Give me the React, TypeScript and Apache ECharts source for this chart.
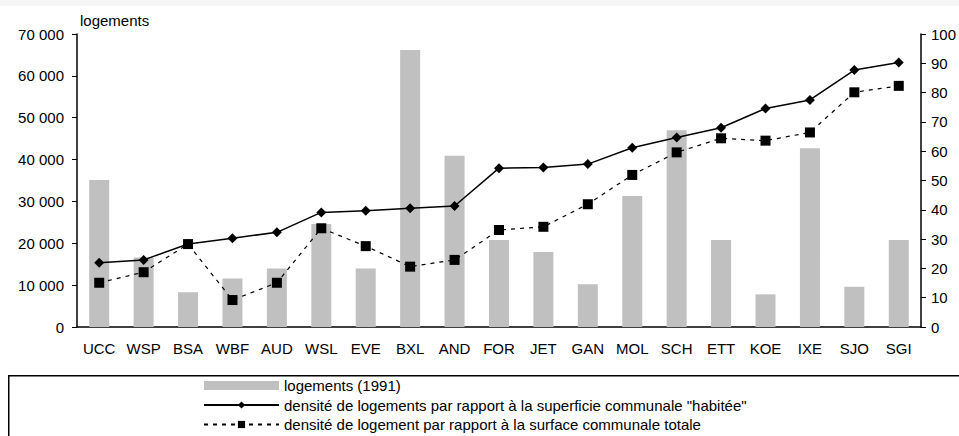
import React, { useEffect, useRef } from "react";
import * as echarts from "echarts";

const categories = ["UCC","WSP","BSA","WBF","AUD","WSL","EVE","BXL","AND","FOR","JET","GAN","MOL","SCH","ETT","KOE","IXE","SJO","SGI"];
const logements = [35100,16600,8300,11600,14000,24600,14000,66200,40900,20800,17900,10200,31300,47000,20800,7800,42700,9600,20800];
const densiteHabitee = [21.9,22.9,28.3,30.3,32.3,39.1,39.7,40.5,41.3,54.2,54.4,55.6,61.2,64.7,68.0,74.6,77.5,87.7,90.3];
const densiteTotale = [15.1,18.7,28.3,9.2,15.1,33.7,27.6,20.6,22.9,33.1,34.2,41.9,51.9,59.6,64.4,63.6,66.4,80.1,82.3];

const seriesNames = [
  "logements (1991)",
  "densité de logements par rapport à la superficie communale \"habitée\"",
  "densité de logement par rapport à la surface communale totale",
];

const FONT = "Liberation Sans";
const FS = 15;

export default function App() {
  const ref = useRef<HTMLDivElement>(null);
  useEffect(() => {
    document.body.style.margin = "0";
    const chart = echarts.init(ref.current!, null, { renderer: "svg" });
    const axisLabel = { color: "#000", fontFamily: FONT, fontSize: FS };
    chart.setOption({
      animation: false,
      backgroundColor: "#fff",
      textStyle: { fontFamily: FONT },
      grid: { left: 77, right: 34, top: 34, bottom: 109 },
      graphic: [
        {
          type: "rect",
          left: 0,
          top: 0,
          shape: { x: 0, y: 0, width: 959, height: 6 },
          style: { fill: "#f6f6f6" },
          z: 0,
        },
        {
          type: "rect",
          left: 8,
          top: 375,
          shape: { x: 0, y: 0, width: 970, height: 80 },
          style: { fill: "#fff", stroke: "#000", lineWidth: 1.5 },
          z: 0,
        },
        {
          type: "text",
          left: 80,
          top: 13,
          style: { text: "logements", fill: "#000", font: `${FS}px "${FONT}"` },
        },
      ],
      legend: {
        orient: "vertical",
        left: 198,
        top: 373,
        height: 70,
        padding: 5,
        itemWidth: 75,
        itemHeight: 9,
        itemGap: 4.5,
        textStyle: { color: "#000", fontFamily: FONT, fontSize: FS, lineHeight: 15 },
        data: [
          { name: seriesNames[0], icon: "rect" },
          { name: seriesNames[1] },
          { name: seriesNames[2] },
        ],
        z: 5,
      },
      xAxis: {
        type: "category",
        data: categories,
        axisLine: { lineStyle: { color: "#000", width: 1.5 } },
        axisTick: { length: 5, lineStyle: { color: "#000" } },
        axisLabel: { ...axisLabel, margin: 14 },
      },
      yAxis: [
        {
          type: "value",
          min: 0,
          max: 70000,
          interval: 10000,
          splitLine: { show: false },
          axisLine: { show: true, lineStyle: { color: "#000", width: 1.5 } },
          axisTick: { show: true, length: 5, lineStyle: { color: "#000" } },
          axisLabel: {
            ...axisLabel,
            margin: 13,
            formatter: (v: number) => (v === 0 ? "0" : `${Math.round(v / 1000)} 000`),
          },
        },
        {
          type: "value",
          min: 0,
          max: 100,
          interval: 10,
          position: "right",
          splitLine: { show: false },
          axisLine: { show: true, lineStyle: { color: "#000", width: 1.5 } },
          axisTick: { show: true, length: 5, lineStyle: { color: "#000" } },
          axisLabel: { ...axisLabel, margin: 10 },
        },
      ],
      series: [
        {
          name: seriesNames[0],
          type: "bar",
          data: logements,
          barWidth: "45%",
          itemStyle: { color: "#c0c0c0" },
          yAxisIndex: 0,
        },
        {
          name: seriesNames[1],
          type: "line",
          yAxisIndex: 1,
          data: densiteHabitee,
          symbol: "diamond",
          symbolSize: 10,
          itemStyle: { color: "#000" },
          lineStyle: { color: "#000", width: 1.5 },
          z: 3,
        },
        {
          name: seriesNames[2],
          type: "line",
          yAxisIndex: 1,
          data: densiteTotale,
          symbol: "rect",
          symbolSize: 10,
          itemStyle: { color: "#000" },
          lineStyle: { color: "#000", width: 1.2, type: [4, 5] },
          z: 4,
        },
      ],
    });
    return () => chart.dispose();
  }, []);
  return <div ref={ref} style={{ width: 959, height: 436 }} />;
}
